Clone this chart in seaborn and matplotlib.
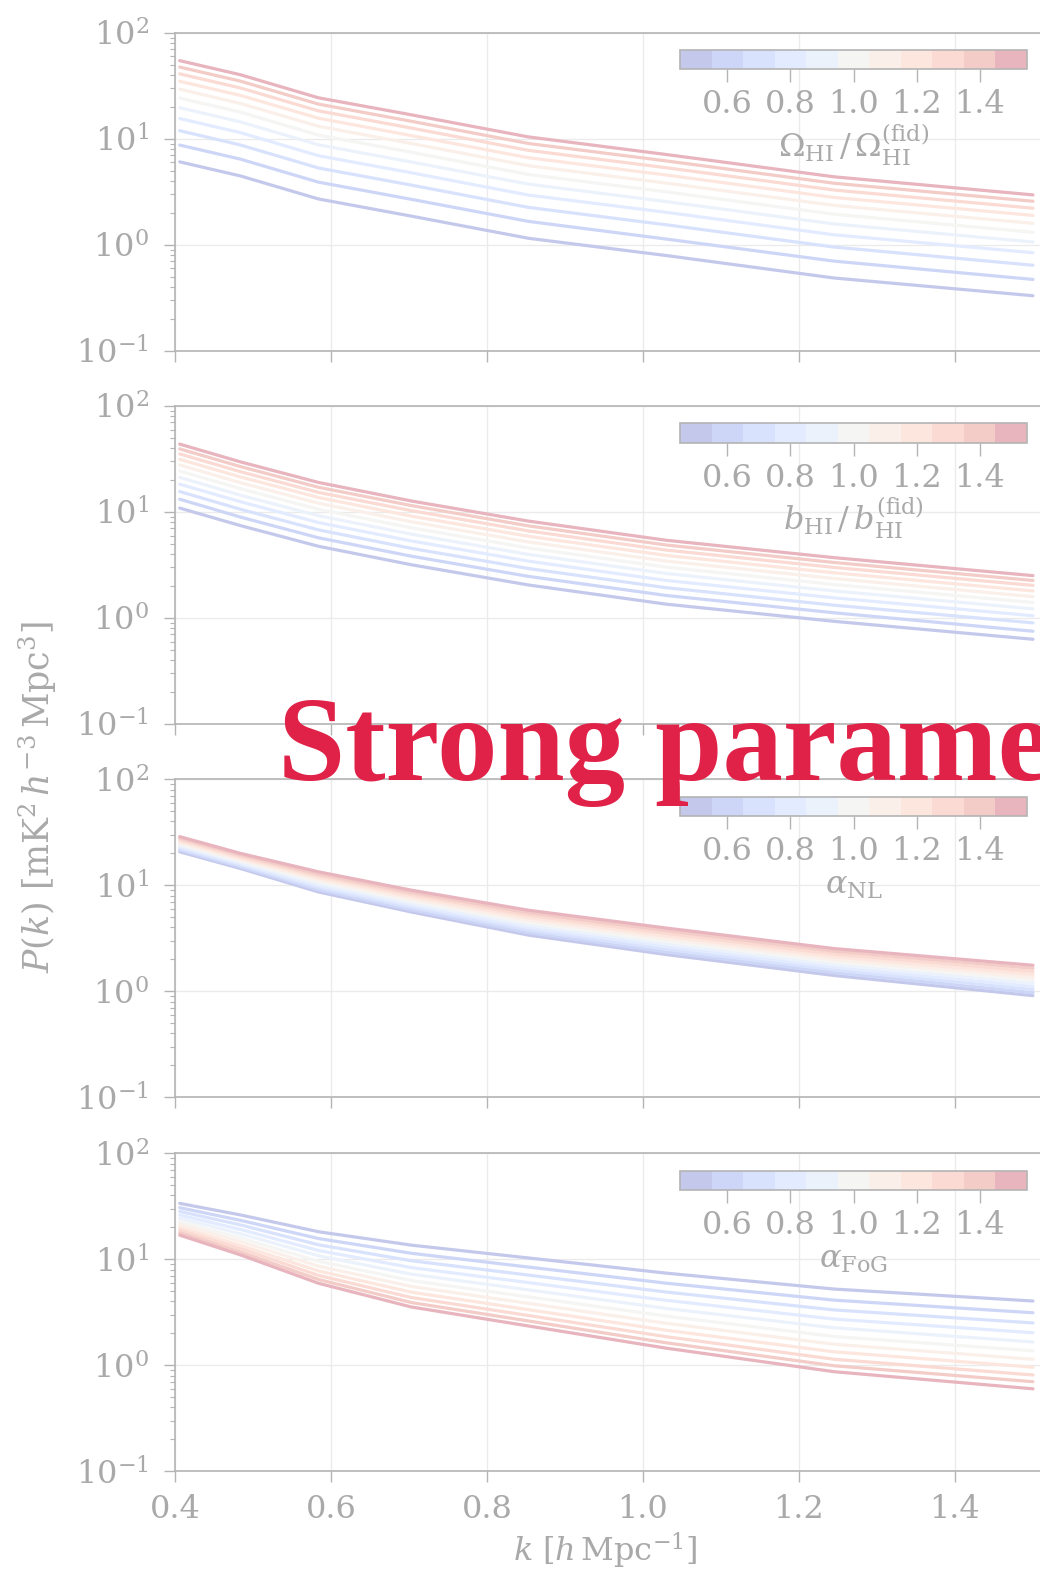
import numpy as np
import pandas as pd
import matplotlib
matplotlib.use("Agg")
import matplotlib.pyplot as plt
from matplotlib.colors import ListedColormap, BoundaryNorm
from matplotlib.cm import ScalarMappable
from matplotlib.ticker import LogLocator, NullFormatter, LogFormatterMathtext, NullLocator
import seaborn as sns

# ---------------------------------------------------------------- data
k_vals = [0.406, 0.484, 0.584, 0.703, 0.853, 1.03, 1.245, 1.50]
param_vals = [0.5, 0.6, 0.7, 0.8, 0.9, 1.0, 1.1, 1.2, 1.3, 1.4, 1.5]

# P(k) for each parameter value (rows) at each k (columns)
P_omega = [
    [6.05, 4.45, 2.70, 1.86, 1.15, 0.79, 0.485, 0.33],
    [8.71, 6.41, 3.89, 2.68, 1.66, 1.13, 0.70, 0.47],
    [11.9, 8.72, 5.29, 3.65, 2.25, 1.54, 0.95, 0.64],
    [15.5, 11.4, 6.91, 4.77, 2.94, 2.02, 1.24, 0.84],
    [19.6, 14.4, 8.75, 6.03, 3.73, 2.55, 1.57, 1.06],
    [24.2, 17.8, 10.8, 7.45, 4.60, 3.15, 1.94, 1.31],
    [29.3, 21.5, 13.1, 9.01, 5.57, 3.81, 2.35, 1.59],
    [34.8, 25.6, 15.6, 10.7, 6.62, 4.54, 2.79, 1.89],
    [40.9, 30.1, 18.3, 12.6, 7.77, 5.32, 3.28, 2.21],
    [47.4, 34.9, 21.2, 14.6, 9.02, 6.17, 3.80, 2.57],
    [54.5, 40.1, 24.3, 16.8, 10.4, 7.09, 4.37, 2.95],
]
P_bias = [
    [10.9, 7.44, 4.75, 3.18, 2.05, 1.35, 0.93, 0.63],
    [13.2, 8.95, 5.71, 3.83, 2.47, 1.63, 1.12, 0.75],
    [15.6, 10.6, 6.78, 4.54, 2.93, 1.93, 1.32, 0.90],
    [18.3, 12.5, 7.95, 5.33, 3.44, 2.26, 1.55, 1.05],
    [21.2, 14.4, 9.22, 6.18, 3.98, 2.63, 1.80, 1.22],
    [24.4, 16.6, 10.6, 7.10, 4.58, 3.02, 2.07, 1.40],
    [27.8, 18.9, 12.1, 8.09, 5.22, 3.44, 2.36, 1.59],
    [31.4, 21.4, 13.7, 9.14, 5.90, 3.89, 2.67, 1.80],
    [35.3, 24.0, 15.3, 10.3, 6.63, 4.37, 3.00, 2.03],
    [39.4, 26.8, 17.1, 11.5, 7.40, 4.88, 3.34, 2.26],
    [43.7, 29.7, 19.0, 12.7, 8.21, 5.41, 3.71, 2.51],
]
P_nl = [
    [20.7, 14.4, 8.65, 5.60, 3.39, 2.22, 1.41, 0.91],
    [21.4, 14.9, 9.04, 5.87, 3.58, 2.35, 1.50, 0.97],
    [22.1, 15.4, 9.44, 6.16, 3.78, 2.49, 1.59, 1.04],
    [22.9, 15.9, 9.86, 6.46, 3.99, 2.64, 1.68, 1.11],
    [23.6, 16.4, 10.3, 6.77, 4.21, 2.80, 1.78, 1.19],
    [24.4, 17.0, 10.8, 7.10, 4.44, 2.96, 1.89, 1.27],
    [25.2, 17.5, 11.3, 7.44, 4.68, 3.14, 2.00, 1.35],
    [26.1, 18.1, 11.8, 7.81, 4.94, 3.32, 2.12, 1.44],
    [27.0, 18.7, 12.3, 8.19, 5.22, 3.52, 2.25, 1.54],
    [27.9, 19.4, 12.8, 8.58, 5.51, 3.73, 2.39, 1.65],
    [28.8, 20.0, 13.4, 9.00, 5.82, 3.95, 2.53, 1.76],
]
P_fog = [
    [33.7, 26.2, 18.2, 13.6, 10.3, 7.40, 5.24, 4.04],
    [30.7, 23.3, 15.7, 11.4, 8.45, 5.95, 4.12, 3.13],
    [28.3, 21.1, 13.7, 9.69, 7.10, 4.91, 3.33, 2.51],
    [26.2, 19.1, 12.1, 8.35, 6.03, 4.10, 2.73, 2.03],
    [24.4, 17.4, 10.8, 7.24, 5.15, 3.44, 2.26, 1.66],
    [22.7, 15.9, 9.58, 6.30, 4.42, 2.91, 1.87, 1.37],
    [21.3, 14.7, 8.62, 5.55, 3.84, 2.49, 1.58, 1.14],
    [19.9, 13.5, 7.77, 4.90, 3.35, 2.14, 1.34, 0.96],
    [18.8, 12.6, 7.05, 4.36, 2.95, 1.86, 1.14, 0.81],
    [17.8, 11.7, 6.45, 3.91, 2.62, 1.63, 0.99, 0.70],
    [16.9, 11.0, 5.94, 3.55, 2.35, 1.45, 0.87, 0.60],
]

panel_data = [P_omega, P_bias, P_nl, P_fog]
cbar_labels = [
    r"$\Omega_{\mathrm{HI}}\,/\,\Omega_{\mathrm{HI}}^{(\mathrm{fid})}$",
    r"$b_{\mathrm{HI}}\,/\,b_{\mathrm{HI}}^{(\mathrm{fid})}$",
    r"$\alpha_{\mathrm{NL}}$",
    r"$\alpha_{\mathrm{FoG}}$",
]
cbar_ticks = [0.6, 0.8, 1.0, 1.2, 1.4]
x_ticks = [0.4, 0.6, 0.8, 1.0, 1.2, 1.4]
x_label = r"$k\ [h\,\mathrm{Mpc}^{-1}]$"
y_label = r"$P(k)\ [\mathrm{mK}^2\,h^{-3}\,\mathrm{Mpc}^3]$"
title_text = "Strong parameter dependence"

# ---------------------------------------------------------------- style
sns.set_theme(style="white")
plt.rcParams["font.family"] = ["DejaVu Serif"]
plt.rcParams["mathtext.fontset"] = "dejavuserif"

TEXT = "#a9a9a9"
SPINE = "#b4b4b4"
GRID = "#ebebeb"
FS = 23

# washed-out coolwarm steps, one per parameter value
base = plt.get_cmap("coolwarm")(np.linspace(0, 1, len(param_vals)))[:, :3]
faded = 1 - 0.3 * (1 - base)
palette = {p: tuple(c) for p, c in zip(param_vals, faded)}
cmap = ListedColormap(faded)
bounds = np.linspace(0.45, 1.55, len(param_vals) + 1)
norm = BoundaryNorm(bounds, cmap.N)

W, H = 1040, 1574
fig = plt.figure(figsize=(W / 100, H / 100), dpi=100)

tops = [32.7, 406.0, 779.3, 1153.3]
ax_h = 318.0
left = 175.0
ax_w = 936.0

for i, (rows, lab) in enumerate(zip(panel_data, cbar_labels)):
    top = tops[i]
    ax = fig.add_axes([left / W, 1 - (top + ax_h) / H, ax_w / W, ax_h / H])

    df = pd.DataFrame(
        [(k, val, p) for p, row in zip(param_vals, rows) for k, val in zip(k_vals, row)],
        columns=["k", "P", "param"],
    )
    sns.lineplot(data=df, x="k", y="P", hue="param", hue_order=param_vals,
                 palette=palette, legend=False, lw=2.3, ax=ax)

    ax.set_yscale("log")
    ax.set_ylim(0.1, 100)
    ax.set_xlim(0.4, 1.6)
    ax.set_xticks(x_ticks)
    ax.set_xticklabels([f"{t:.1f}" for t in x_ticks])
    ax.yaxis.set_major_locator(LogLocator(base=10, numticks=10))
    ax.yaxis.set_major_formatter(LogFormatterMathtext())
    ax.yaxis.set_minor_locator(LogLocator(base=10, subs=np.arange(2, 10), numticks=20))
    ax.yaxis.set_minor_formatter(NullFormatter())
    ax.set_xlabel("")
    ax.set_ylabel("")

    ax.grid(True, which="major", color=GRID, lw=1.0)
    ax.set_axisbelow(True)
    for sp in ax.spines.values():
        sp.set_color(SPINE)
        sp.set_linewidth(1.2)

    ax.tick_params(axis="y", which="major", direction="out", left=True, length=7.7,
                   width=1.0, color=SPINE, labelsize=FS, labelcolor=TEXT, pad=11)
    ax.tick_params(axis="y", which="minor", direction="out", left=True, length=3.6,
                   width=0.8, color=SPINE)
    ax.tick_params(axis="x", which="major", direction="out", bottom=True, length=7.7,
                   width=1.0, color=SPINE, labelsize=FS, labelcolor=TEXT, pad=9,
                   labelbottom=(i == 3))

    # inset colour bar
    cax = fig.add_axes([680 / W, 1 - (top + 17.3 + 19.3) / H, 347 / W, 19.3 / H])
    cb = fig.colorbar(ScalarMappable(norm=norm, cmap=cmap), cax=cax,
                      orientation="horizontal", ticks=cbar_ticks, format="%.1f")
    cb.minorticks_off()
    cax.xaxis.set_minor_locator(NullLocator())
    cb.outline.set_edgecolor(SPINE)
    cb.outline.set_linewidth(1.2)
    cax.tick_params(which="major", direction="out", bottom=True, length=9.4, width=1.0,
                    color=SPINE, labelsize=FS, labelcolor=TEXT, pad=5)
    cb.set_label(lab, fontsize=FS, color=TEXT, labelpad=2)

fig.text(38 / W, 1 - 797 / H, y_label, rotation=90, fontsize=25, color=TEXT,
         ha="center", va="center")
fig.text(605 / W, 1 - 1551 / H, x_label, fontsize=FS, color=TEXT,
         ha="center", va="center")

fig.text(278 / W, 1 - 780 / H, title_text, fontsize=87, fontweight="bold",
         family="Liberation Serif", color="#e12248", ha="left", va="baseline",
         zorder=20)

fig.savefig("out.png", dpi=100)
